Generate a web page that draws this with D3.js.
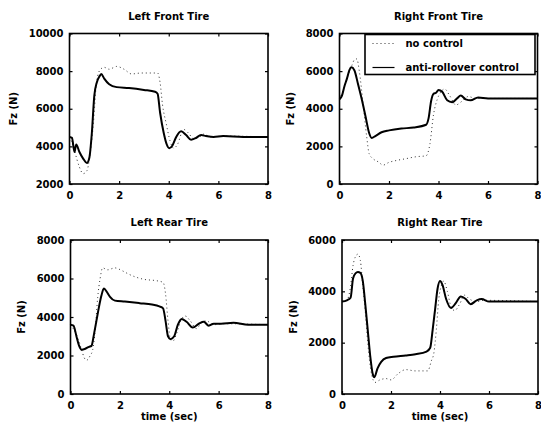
<!DOCTYPE html>
<html>
<head>
<meta charset="utf-8">
<script src="https://d3js.org/d3.v7.min.js"></script>
<style>
  body { margin: 0; background: #fff; }
  svg { display: block; background: #fff; }
  text { font-family: 'DejaVu Sans', sans-serif; font-weight: bold; font-size: 10px; fill: #000; }
</style>
</head>
<body>
<svg></svg>
<script>
// tire normal load data (time in sec, Fz in N)

let timeTicks = [0, 2, 4, 6, 8]
let seriesNames = ['no control', 'anti-rollover control']
let titles = ['Left Front Tire', 'Right Front Tire', 'Left Rear Tire', 'Right Rear Tire']

let yTicksLF = [2000, 4000, 6000, 8000, 10000]
let yTicksRF = [0, 2000, 4000, 6000, 8000]
let yTicksLR = [0, 2000, 4000, 6000, 8000]
let yTicksRR = [0, 2000, 4000, 6000]

// left front
let tCtrlLF = [0, 0.1, 0.2, 0.27, 0.4, 0.55, 0.7, 0.8, 0.9, 1.0, 1.1, 1.2, 1.28, 1.4, 1.6, 1.9, 2.4, 3.0, 3.45, 3.55, 3.65, 3.8, 3.92, 4.02, 4.15, 4.3, 4.5, 4.7, 4.9, 5.1, 5.3, 5.5, 5.8, 6.2, 7.0, 8.0]
let ctrlLF = [4500, 4450, 3700, 4100, 3700, 3350, 3120, 3400, 4700, 6700, 7400, 7700, 7850, 7600, 7300, 7150, 7100, 7000, 6900, 6800, 5800, 4700, 4100, 3900, 4050, 4500, 4800, 4600, 4350, 4450, 4600, 4550, 4500, 4550, 4500, 4500]
let tNoLF = [0, 0.2, 0.3, 0.4, 0.55, 0.7, 0.8, 0.95, 1.1, 1.25, 1.4, 1.6, 1.9, 2.2, 2.5, 2.9, 3.3, 3.55, 3.65, 3.75, 3.9, 4.05, 4.2, 4.35, 4.6, 4.8, 5.0, 5.2, 5.4, 5.7, 6.2, 8.0]
let noLF = [4500, 3800, 3300, 2900, 2550, 2700, 3300, 5000, 7500, 8100, 8200, 8100, 8250, 8100, 7850, 7900, 7900, 7900, 7400, 6200, 5200, 4300, 3900, 4100, 4900, 4700, 4400, 4450, 4650, 4500, 4550, 4500]

// right front
let tCtrlRF = [0, 0.1, 0.2, 0.3, 0.4, 0.48, 0.6, 0.75, 0.9, 1.05, 1.2, 1.3, 1.45, 1.7, 2.0, 2.5, 3.0, 3.5, 3.6, 3.7, 3.8, 3.9, 4.0, 4.15, 4.35, 4.55, 4.75, 4.9, 5.1, 5.3, 5.6, 6.0, 7.0, 8.0]
let ctrlRF = [4500, 4700, 5200, 5600, 6050, 6200, 6050, 5300, 4500, 3600, 2700, 2450, 2550, 2750, 2850, 2950, 3000, 3150, 3500, 4400, 4800, 4850, 5000, 4900, 4450, 4350, 4550, 4700, 4500, 4450, 4600, 4550, 4550, 4550]
let tNoRF = [0, 0.2, 0.35, 0.5, 0.6, 0.7, 0.8, 0.95, 1.1, 1.2, 1.35, 1.6, 1.75, 2.0, 2.3, 2.7, 3.1, 3.5, 3.65, 3.8, 3.95, 4.1, 4.25, 4.45, 4.7, 4.95, 5.2, 5.5, 6.0, 8.0]
let noRF = [4500, 5200, 5800, 6300, 6600, 6650, 6000, 4300, 2500, 1600, 1350, 1150, 1000, 1150, 1250, 1350, 1450, 1500, 2100, 3700, 4500, 4900, 5050, 4700, 4200, 4400, 4650, 4550, 4550, 4550]

// left rear
let tCtrlLR = [0, 0.12, 0.25, 0.35, 0.45, 0.6, 0.75, 0.85, 0.95, 1.05, 1.15, 1.25, 1.35, 1.45, 1.6, 1.8, 2.2, 2.8, 3.3, 3.6, 3.75, 3.85, 3.95, 4.05, 4.2, 4.35, 4.5, 4.7, 4.95, 5.2, 5.4, 5.6, 5.8, 6.1, 6.6, 7.2, 8.0]
let ctrlLR = [3600, 3550, 2950, 2500, 2300, 2350, 2450, 2500, 3100, 3800, 4500, 5100, 5480, 5350, 5050, 4850, 4800, 4720, 4650, 4550, 4450, 3800, 3000, 2850, 3000, 3600, 3900, 3750, 3450, 3650, 3750, 3550, 3650, 3650, 3700, 3600, 3600]
let tNoLR = [0, 0.3, 0.45, 0.55, 0.65, 0.8, 0.9, 1.0, 1.1, 1.2, 1.3, 1.5, 1.8, 2.1, 2.4, 2.7, 3.0, 3.4, 3.75, 3.85, 3.95, 4.05, 4.15, 4.3, 4.5, 4.65, 4.85, 5.1, 5.3, 5.5, 5.8, 6.2, 8.0]
let noLR = [3600, 2900, 2300, 1900, 1750, 2000, 2300, 3300, 5000, 6000, 6550, 6450, 6550, 6400, 6200, 6050, 5950, 5900, 5800, 5200, 3800, 2850, 2750, 3150, 3900, 4050, 3800, 3400, 3700, 3800, 3600, 3650, 3600]

// right rear
let tCtrlRR = [0, 0.2, 0.35, 0.45, 0.55, 0.65, 0.75, 0.85, 0.95, 1.05, 1.15, 1.25, 1.32, 1.45, 1.6, 1.8, 2.1, 2.6, 3.0, 3.45, 3.6, 3.7, 3.8, 3.9, 4.0, 4.1, 4.25, 4.45, 4.65, 4.85, 5.05, 5.25, 5.5, 5.7, 6.0, 7.0, 8.0]
let ctrlRR = [3600, 3650, 3750, 4500, 4700, 4750, 4720, 4400, 3500, 2500, 1500, 800, 650, 1000, 1250, 1400, 1450, 1500, 1550, 1650, 1800, 2500, 3300, 4100, 4400, 4250, 3700, 3350, 3550, 3800, 3700, 3500, 3650, 3700, 3600, 3600, 3600]
let tNoRR = [0, 0.2, 0.35, 0.45, 0.55, 0.65, 0.75, 0.85, 0.95, 1.05, 1.2, 1.35, 1.55, 1.8, 2.0, 2.3, 2.6, 3.0, 3.5, 3.65, 3.75, 3.85, 3.95, 4.05, 4.15, 4.3, 4.45, 4.6, 4.8, 5.0, 5.2, 5.5, 5.8, 8.0]
let noRR = [3600, 3650, 4200, 5000, 5350, 5450, 5200, 4200, 3200, 2000, 800, 450, 550, 600, 550, 800, 950, 900, 900, 1300, 1600, 2500, 3700, 4200, 4400, 4000, 3400, 3250, 3500, 3850, 3700, 3600, 3650, 3600]

// canvas
let width = 541
let height = 432
let svg = d3.select('svg').attr('width', width).attr('height', height)

// plot boxes (pixels) for the 2x2 grid
let boxes = [
  {left: 69.5, top: 33.5, right: 268, bottom: 184},
  {left: 339.5, top: 33.5, right: 537.5, bottom: 184},
  {left: 70.5, top: 240, right: 268, bottom: 394},
  {left: 342, top: 240, right: 538, bottom: 394}
]

let panels = [
  {title: titles[0], yTicks: yTicksLF, tCtrl: tCtrlLF, ctrl: ctrlLF, tNo: tNoLF, no: noLF},
  {title: titles[1], yTicks: yTicksRF, tCtrl: tCtrlRF, ctrl: ctrlRF, tNo: tNoRF, no: noRF},
  {title: titles[2], yTicks: yTicksLR, tCtrl: tCtrlLR, ctrl: ctrlLR, tNo: tNoLR, no: noLR},
  {title: titles[3], yTicks: yTicksRR, tCtrl: tCtrlRR, ctrl: ctrlRR, tNo: tNoRR, no: noRR}
]

let drawPanel = (p, box, i) => {
  let xScale = d3.scaleLinear().domain([0, 8]).range([box.left, box.right])
  let yScale = d3.scaleLinear()
                 .domain([p.yTicks[0], p.yTicks[p.yTicks.length - 1]])
                 .range([box.bottom, box.top])
  let g = svg.append('g')

  let line = d3.line()
               .x((d) => xScale(d[0]))
               .y((d) => yScale(d[1]))
               .curve(d3.curveMonotoneX)

  // no control, dotted
  g.append('path')
    .datum(p.tNo.map((t, k) => [t, p.no[k]]))
    .attr('d', line)
    .attr('fill', 'none')
    .attr('stroke', '#333')
    .attr('stroke-width', 1)
    .attr('stroke-dasharray', '1,3')

  // anti-rollover control, solid
  g.append('path')
    .datum(p.tCtrl.map((t, k) => [t, p.ctrl[k]]))
    .attr('d', line)
    .attr('fill', 'none')
    .attr('stroke', '#000')
    .attr('stroke-width', 2)

  // axes, ticks pointing inward like matlab
  let xAxis = d3.axisBottom(xScale).tickValues(timeTicks).tickSize(-3).tickPadding(8).tickFormat(d3.format('d'))
  let yAxis = d3.axisLeft(yScale).tickValues(p.yTicks).tickSize(-3).tickPadding(6).tickFormat(d3.format('d'))

  g.append('g').attr('transform', `translate(0,${box.bottom})`).call(xAxis)
  g.append('g').attr('transform', `translate(${box.left},0)`).call(yAxis)
  g.append('g').attr('transform', `translate(0,${box.top})`)
    .call(d3.axisTop(xScale).tickValues(timeTicks).tickSize(-3).tickFormat(''))
  g.append('g').attr('transform', `translate(${box.right},0)`)
    .call(d3.axisRight(yScale).tickValues(p.yTicks).tickSize(-3).tickFormat(''))
  g.selectAll('.domain').remove()
  g.selectAll('.tick line').attr('stroke', '#000').attr('stroke-width', 1.2)

  // frame
  g.append('rect')
    .attr('x', box.left)
    .attr('y', box.top)
    .attr('width', box.right - box.left)
    .attr('height', box.bottom - box.top)
    .attr('fill', 'none')
    .attr('stroke', '#000')
    .attr('stroke-width', 1.6)

  // title
  g.append('text')
    .attr('x', (box.left + box.right) / 2)
    .attr('y', box.top - 14)
    .attr('text-anchor', 'middle')
    .text(p.title)

  // y label
  let labelX = i == 0 ? box.left - 56 : box.left - 49
  g.append('text')
    .attr('transform', `translate(${labelX},${(box.top + box.bottom) / 2}) rotate(-90)`)
    .attr('text-anchor', 'middle')
    .attr('dy', '0.35em')
    .text('Fz (N)')

  // x label only on bottom row
  if (i >= 2) {
    g.append('text')
      .attr('x', (box.left + box.right) / 2)
      .attr('y', box.bottom + 26)
      .attr('text-anchor', 'middle')
      .text('time (sec)')
  }
}

panels.forEach((p, i) => drawPanel(p, boxes[i], i))

// legend inside the right front plot
let makeLegend = () => {
  let b = boxes[1]
  let lg = svg.append('g').attr('id', 'legend')
  lg.append('rect')
    .attr('x', b.left + 25.5)
    .attr('y', b.top + 1)
    .attr('width', 170)
    .attr('height', 40)
    .attr('fill', '#fff')
    .attr('stroke', '#000')
    .attr('stroke-width', 1.6)

  let rows = [10, 34]
  seriesNames.forEach((name, k) => {
    lg.append('line')
      .attr('x1', b.left + 33)
      .attr('x2', b.left + 55)
      .attr('y1', b.top + rows[k])
      .attr('y2', b.top + rows[k])
      .attr('stroke', k == 0 ? '#333' : '#000')
      .attr('stroke-width', k == 0 ? 1 : 1.2)
      .attr('stroke-dasharray', k == 0 ? '1,3' : null)
    lg.append('text')
      .attr('x', b.left + 66)
      .attr('y', b.top + rows[k])
      .attr('dy', '0.35em')
      .text(name)
  })
}

makeLegend()
</script>
</body>
</html>
